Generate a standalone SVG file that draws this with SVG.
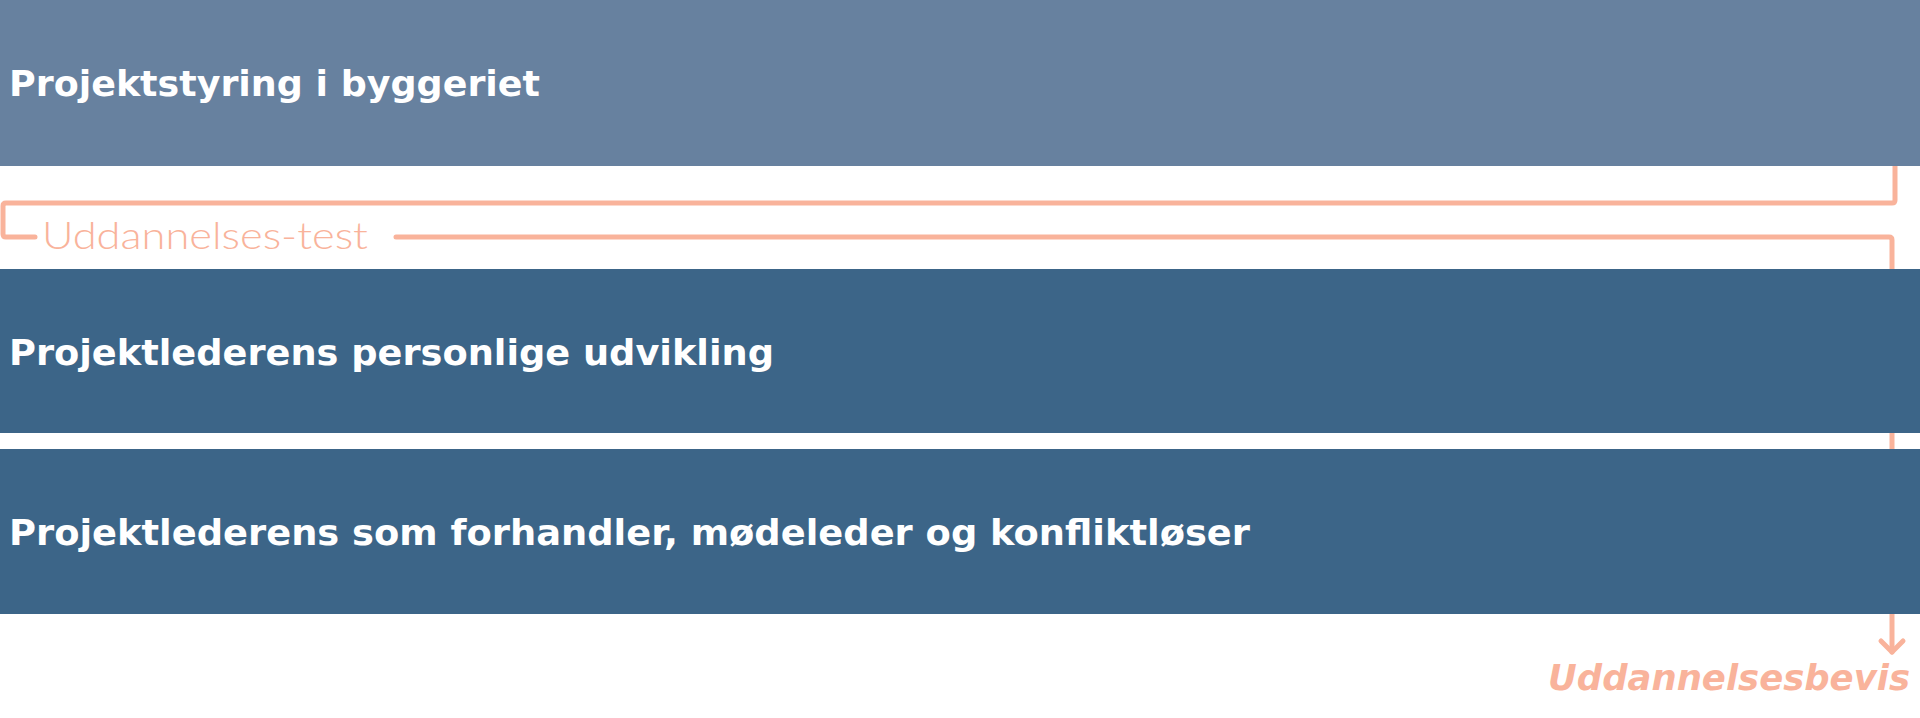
<svg xmlns="http://www.w3.org/2000/svg" width="1920" height="718" viewBox="0 0 1920 718">
<style>
.band-light{fill:#67819f}
.band-dark{fill:#3c6588}
.title{font-family:"DejaVu Sans","Liberation Sans",sans-serif;font-weight:700;font-size:36px;fill:#ffffff}
.conn{fill:none;stroke:#f9b39b;stroke-width:5;stroke-linecap:round;stroke-linejoin:round}
.lbl{font-family:"Lato","Open Sans","Liberation Sans",sans-serif;font-weight:300;font-size:37px;fill:#f9b39b}
.end{font-family:"DejaVu Sans","Liberation Sans",sans-serif;font-weight:700;font-style:italic;font-size:36px;fill:#f9b39b}
</style>
<rect width="1920" height="718" fill="#ffffff"/>
<g id="connectors">
<path class="conn" d="M1895,166 V200 Q1895,203 1892,203 H6 Q3,203 3,206 V234 Q3,237 6,237 H35"/>
<path class="conn" d="M396,237 H1889 Q1892,237 1892,240 V652"/>
<polyline class="conn" points="1881,641 1892,652 1903,641"/>
</g>
<g id="node-projektstyring">
<rect class="band-light" x="0" y="0" width="1920" height="166"/>
<text class="title" x="9" y="96" textLength="531" lengthAdjust="spacingAndGlyphs">Projektstyring i byggeriet</text>
</g>
<g id="label-test">
<text class="lbl" x="42" y="249" textLength="326" lengthAdjust="spacingAndGlyphs">Uddannelses-test</text>
</g>
<g id="node-personlige">
<rect class="band-dark" x="0" y="269" width="1920" height="164"/>
<text class="title" x="9" y="365" textLength="765" lengthAdjust="spacingAndGlyphs">Projektlederens personlige udvikling</text>
</g>
<g id="node-forhandler">
<rect class="band-dark" x="0" y="449" width="1920" height="165"/>
<text class="title" x="9" y="545" textLength="1241" lengthAdjust="spacingAndGlyphs">Projektlederens som forhandler, mødeleder og konfliktløser</text>
</g>
<g id="node-bevis">
<text class="end" x="1548" y="690" textLength="362" lengthAdjust="spacingAndGlyphs">Uddannelsesbevis</text>
</g>
</svg>
